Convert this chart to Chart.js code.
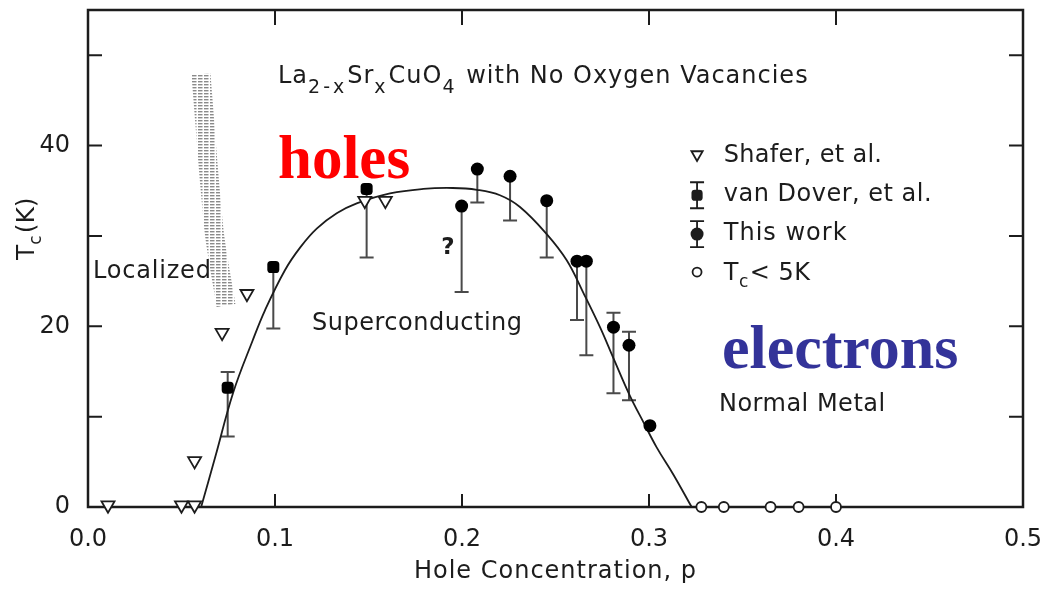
<!DOCTYPE html>
<html>
<head>
<meta charset="utf-8">
<script src="https://cdn.jsdelivr.net/npm/chart.js@4/dist/chart.umd.min.js"></script>
<style>
html,body{margin:0;padding:0;background:#fff;}
#wrap{width:1048px;height:590px;position:relative;}
</style>
</head>
<body>
<div id="wrap"><canvas id="c" width="1048" height="590"></canvas></div>
<script>
// ---------- data ----------
const xTickValues = [0.0, 0.1, 0.2, 0.3, 0.4, 0.5];
const xTickLabels = ['0.0', '0.1', '0.2', '0.3', '0.4', '0.5'];
const yTickValues = [0, 10, 20, 30, 40, 50];
const yTickLabels = ['0', '', '20', '', '40', ''];

// Shafer, et al. (open down-triangles)
const shaferP  = [0.0107, 0.050, 0.057, 0.057, 0.0717, 0.085, 0.148, 0.159];
const shaferTc = [0.2, 0.2, 0.2, 5.1, 19.3, 23.6, 33.9, 33.9];

// van Dover, et al. (filled, with error bars)
const vanDoverP    = [0.0747, 0.0991, 0.149];
const vanDoverTc   = [13.2, 26.55, 35.2];
const vanDoverLow  = [7.8, 19.75, 27.6];
const vanDoverHigh = [14.95, 26.55, 35.2];

// This work (filled circles, with error bars)
const thisWorkP    = [0.1998, 0.2082, 0.2257, 0.2453, 0.2615, 0.2665, 0.2810, 0.2893, 0.3005];
const thisWorkTc   = [33.3, 37.4, 36.6, 33.9, 27.2, 27.2, 19.9, 17.9, 9.0];
const thisWorkLow  = [23.8, 33.7, 31.7, 27.6, 20.7, 16.8, 12.6, 11.8, 9.0];
const thisWorkHigh = [33.3, 37.4, 36.6, 33.9, 27.2, 27.2, 21.5, 19.4, 9.0];

// Tc < 5K (open circles)
const lowTcP  = [0.328, 0.340, 0.365, 0.380, 0.400];
const lowTcTc = [0, 0, 0, 0, 0];

// guide curve through the superconducting dome
const curveP  = [0.0605, 0.0680, 0.0777, 0.0880, 0.0947, 0.1053, 0.1134, 0.1223, 0.1330, 0.1437,
                 0.1615, 0.1793, 0.1950, 0.2080, 0.2203, 0.2310, 0.2453, 0.2560, 0.2649, 0.2738,
                 0.2809, 0.2898, 0.2970, 0.3041, 0.3130, 0.3228];
const curveTc = [0, 5.5, 12.7, 18.4, 21.8, 26.2, 28.7, 30.8, 32.5, 33.6,
                 34.7, 35.2, 35.3, 35.1, 34.5, 33.2, 30.2, 27.3, 23.7, 19.9,
                 16.5, 12.3, 9.4, 6.6, 3.6, 0];

// hatched boundary of the localized region
const bandP  = [0.0604, 0.0674, 0.0738];
const bandTc = [47.9, 30.6, 22.3];

const pts = (xs, ys) => xs.map((v, i) => ({x: v, y: ys[i]}));

// ---------- styles ----------
const ink = '#1c1c1c';
const FONT = '"DejaVu Sans", sans-serif';
Chart.defaults.font.family = FONT;
Chart.defaults.color = ink;

const mainCanvas = document.getElementById('c');
const tile = document.createElement('canvas');
tile.width = 6; tile.height = 3;
const tctx = tile.getContext('2d');
tctx.fillStyle = '#8a8a8a';
tctx.fillRect(0, 0, 4.5, 1.4);
const hatch = mainCanvas.getContext('2d').createPattern(tile, 'repeat');

function drawRich(ctx, parts, x, y, size, subSize, subDrop, ls) {
  let cx = x;
  parts.forEach(p => {
    ctx.font = (p.sub ? subSize : size) + 'px ' + FONT;
    ctx.letterSpacing = p.ls || ls || '0px';
    ctx.fillText(p.t, cx, y + (p.sub ? subDrop : 0));
    cx += ctx.measureText(p.t).width + (p.gap || 0);
  });
  ctx.letterSpacing = '0px';
  return cx;
}

function label(ctx, text, x, y, ls) {
  ctx.letterSpacing = ls || '0px';
  ctx.fillText(text, x, y);
  ctx.letterSpacing = '0px';
}

function errorBars(ctx, xs, ys, lo, hi, xScale, yScale) {
  const cap = 7;
  xs.forEach((p, i) => {
    const px = xScale.getPixelForValue(p);
    const py = yScale.getPixelForValue(ys[i]);
    [lo[i], hi[i]].forEach(e => {
      if (Math.abs(e - ys[i]) < 1e-9) return;
      const pe = yScale.getPixelForValue(e);
      ctx.beginPath();
      ctx.moveTo(px, py); ctx.lineTo(px, pe);
      ctx.moveTo(px - cap, pe); ctx.lineTo(px + cap, pe);
      ctx.stroke();
    });
  });
}

const decor = {
  id: 'decor',
  beforeDatasetsDraw(chart) {
    const {ctx, chartArea: a, scales: {x, y}} = chart;
    ctx.save();
    ctx.strokeStyle = ink;
    ctx.lineWidth = 2.5;
    ctx.strokeRect(a.left, a.top, a.right - a.left, a.bottom - a.top);
    ctx.lineWidth = 2;
    ctx.beginPath();
    xTickValues.forEach(v => {
      if (v <= 0 || v >= 0.5) return;
      const px = x.getPixelForValue(v);
      ctx.moveTo(px, a.bottom); ctx.lineTo(px, a.bottom - 13);
      ctx.moveTo(px, a.top); ctx.lineTo(px, a.top + 15);
    });
    yTickValues.forEach(v => {
      if (v <= 0) return;
      const py = y.getPixelForValue(v);
      ctx.moveTo(a.left, py); ctx.lineTo(a.left + 14, py);
      ctx.moveTo(a.right, py); ctx.lineTo(a.right - 14, py);
    });
    ctx.stroke();
    ctx.strokeStyle = '#4a4a4a';
    ctx.lineWidth = 2;
    errorBars(ctx, vanDoverP, vanDoverTc, vanDoverLow, vanDoverHigh, x, y);
    errorBars(ctx, thisWorkP, thisWorkTc, thisWorkLow, thisWorkHigh, x, y);
    ctx.restore();
  },
  afterDatasetsDraw(chart) {
    const {ctx, chartArea: a, scales: {x, y}} = chart;
    const X = v => x.getPixelForValue(v), Y = v => y.getPixelForValue(v);
    ctx.save();
    ctx.fillStyle = ink;
    ctx.textBaseline = 'alphabetic';
    ctx.textAlign = 'left';
    // title
    drawRich(ctx, [
      {t: 'La'}, {t: '2-x', sub: true, ls: '3px'}, {t: 'Sr'}, {t: 'x', sub: true, gap: 2},
      {t: 'CuO'}, {t: '4', sub: true, gap: 2}, {t: ' with No Oxygen Vacancies'}
    ], X(0.1016), Y(46.96), 24, 19, 10, '1px');
    // region labels
    ctx.font = '24px ' + FONT;
    label(ctx, 'Localized', X(0.0027), Y(25.3), '0.8px');
    label(ctx, 'Superconducting', X(0.1198), Y(19.6), '0.5px');
    label(ctx, 'Normal Metal', X(0.3374), Y(10.6), '0.5px');
    ctx.font = 'bold 23px ' + FONT;
    ctx.textAlign = 'center';
    ctx.fillText('?', X(0.1925), Y(28.0));
    ctx.textAlign = 'left';
    // holes / electrons
    ctx.font = 'bold 61px "Liberation Serif", serif';
    ctx.fillStyle = '#ff0000';
    ctx.fillText('holes', X(0.1016), Y(36.46));
    ctx.font = 'bold 62px "Liberation Serif", serif';
    ctx.fillStyle = '#333399';
    ctx.fillText('electrons', X(0.339), Y(15.36));
    ctx.fillStyle = ink;
    // legend
    const mx = X(0.3257), tx = X(0.340);
    const rows = [38.9, 34.5, 30.2, 26.0].map(Y);
    ctx.strokeStyle = ink;
    ctx.lineWidth = 1.8;
    ctx.fillStyle = '#fff';
    Chart.helpers.drawPoint(ctx, {pointStyle: 'triangle', radius: 6.5, rotation: 180, borderWidth: 1.8}, mx, rows[0] - 1);
    ctx.fillStyle = ink;
    [rows[1], rows[2]].forEach((ry, k) => {
      ctx.beginPath();
      ctx.moveTo(mx, ry - 13); ctx.lineTo(mx, ry + 13);
      ctx.moveTo(mx - 7, ry - 13); ctx.lineTo(mx + 7, ry - 13);
      ctx.moveTo(mx - 7, ry + 13); ctx.lineTo(mx + 7, ry + 13);
      ctx.stroke();
      Chart.helpers.drawPoint(ctx, {pointStyle: k === 0 ? 'rectRounded' : 'circle', radius: 6.5, rotation: 0, borderWidth: 0}, mx, ry);
    });
    ctx.fillStyle = '#fff';
    Chart.helpers.drawPoint(ctx, {pointStyle: 'circle', radius: 4.5, rotation: 0, borderWidth: 1.8}, mx, rows[3]);
    ctx.fillStyle = ink;
    ctx.textBaseline = 'middle';
    ctx.font = '24px ' + FONT;
    label(ctx, 'Shafer, et al.', tx, rows[0], '0.3px');
    label(ctx, 'van Dover, et al.', tx, rows[1], '0.5px');
    label(ctx, 'This work', tx, rows[2], '1px');
    ctx.textBaseline = 'alphabetic';
    drawRich(ctx, [{t: 'T'}, {t: 'c', sub: true, gap: 1}, {t: '< 5K'}], tx, rows[3] + 8, 24, 17, 7, '0.5px');
    // x-axis title
    ctx.font = '24px ' + FONT;
    ctx.textAlign = 'center';
    ctx.textBaseline = 'middle';
    label(ctx, 'Hole Concentration, p', (a.left + a.right) / 2, a.bottom + 65, '1px');
    ctx.textAlign = 'left';
    ctx.textBaseline = 'alphabetic';
    // y-axis title T_c(K)
    ctx.save();
    ctx.translate(34, Y(30.8));
    ctx.rotate(-Math.PI / 2);
    ctx.font = '25px ' + FONT;
    const w1 = ctx.measureText('T').width, w3 = ctx.measureText('(K)').width;
    ctx.font = '17px ' + FONT;
    const w2 = ctx.measureText('c').width;
    const total = w1 + w2 + 2 + w3;
    drawRich(ctx, [{t: 'T'}, {t: 'c', sub: true, gap: 2}, {t: '(K)'}], -total / 2, 0, 25, 17, 7);
    ctx.restore();
    ctx.restore();
  }
};

const chart = new Chart(mainCanvas, {
  type: 'scatter',
  data: {
    datasets: [
      {
        label: 'band', type: 'line', data: pts(bandP, bandTc), order: 10,
        borderColor: hatch, borderWidth: 19, borderCapStyle: 'butt', pointRadius: 0, tension: 0.3, clip: false
      },
      {
        label: 'curve', type: 'line', data: pts(curveP, curveTc), order: 5,
        borderColor: ink, borderWidth: 1.8, pointRadius: 0, tension: 0.4, clip: false
      },
      {
        label: 'Shafer, et al.', data: pts(shaferP, shaferTc), order: 2,
        pointStyle: 'triangle', rotation: 180, pointRadius: 7.5,
        backgroundColor: '#fff', borderColor: ink, borderWidth: 1.8, clip: false
      },
      {
        label: 'van Dover, et al.', data: pts(vanDoverP, vanDoverTc), order: 1,
        pointStyle: 'rectRounded', pointRadius: 7, backgroundColor: '#000', borderColor: '#000', borderWidth: 0, clip: false
      },
      {
        label: 'This work', data: pts(thisWorkP, thisWorkTc), order: 1,
        pointStyle: 'circle', pointRadius: 6.5, backgroundColor: '#000', borderColor: '#000', borderWidth: 0, clip: false
      },
      {
        label: 'Tc < 5K', data: pts(lowTcP, lowTcTc), order: 1,
        pointStyle: 'circle', pointRadius: 5, backgroundColor: '#fff', borderColor: ink, borderWidth: 1.8, clip: false
      }
    ]
  },
  options: {
    responsive: false,
    animation: false,
    devicePixelRatio: 1,
    layout: {padding: {top: 10, right: 25, left: 0, bottom: 0}},
    plugins: {legend: {display: false}, tooltip: {enabled: false}},
    scales: {
      x: {
        type: 'linear', min: 0, max: 0.5,
        afterBuildTicks: s => { s.ticks = xTickValues.map(v => ({value: v})); },
        afterFit: s => { s.height = 83; s.paddingLeft = 0; s.paddingRight = 0; },
        grid: {display: false}, border: {display: false},
        ticks: {
          autoSkip: false, maxRotation: 0, padding: 10, color: ink,
          font: {size: 24},
          callback: (v, i) => xTickLabels[i]
        },
        title: {display: false}
      },
      y: {
        type: 'linear', min: 0, max: 55,
        afterBuildTicks: s => { s.ticks = yTickValues.map(v => ({value: v})); },
        afterFit: s => { s.width = 88; s.paddingTop = 0; s.paddingBottom = 0; },
        grid: {display: false}, border: {display: false},
        ticks: {
          autoSkip: false, padding: 10, color: ink,
          font: {size: 24},
          callback: (v, i) => yTickLabels[i]
        }
      }
    }
  },
  plugins: [decor]
});
</script>
</body>
</html>
